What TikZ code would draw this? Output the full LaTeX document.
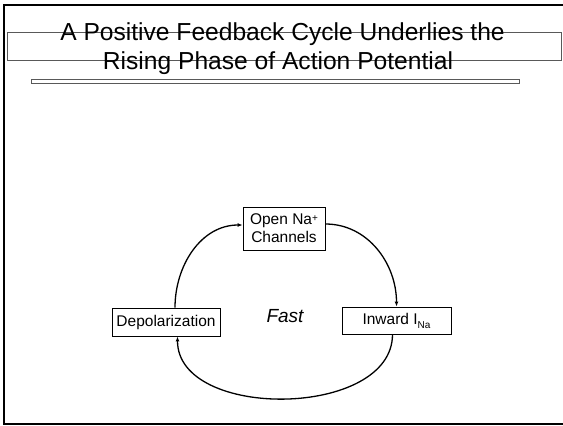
\documentclass[tikz,border=0pt]{standalone}
\usepackage{fontspec}
\setmainfont{Liberation Sans}
\usetikzlibrary{arrows.meta,positioning}
\tikzset{>={Latex[length=5pt,width=4pt]}}
\tikzset{
  titletext/.style={inner sep=0pt, font=\fontsize{24.6}{29}\selectfont},
  titleline/.style={draw=black!65, line width=0.7pt},
  cyclebox/.style={draw, line width=0.8pt, inner sep=0pt, align=center, font=\fontsize{15.5}{18}\selectfont},
  cyclearrow/.style={->, line width=1.3pt}
}
\newcommand{\smallidx}[1]{{\fontsize{10}{10}\selectfont #1}}
\begin{document}
\begin{tikzpicture}[x=1pt,y=1pt]
\useasboundingbox (0,0) rectangle (563,-426);
% slide frame
\draw[line width=2pt] (563,-5) -- (4.3,-5) -- (4.3,-423.5) -- (563,-423.5);
% title
\draw[titleline] (7.5,-32.5) rectangle (561,-60.5);
\draw[titleline] (31,-79) rectangle (519,-83);
\node[titletext, anchor=base] (title1) at (282.5,-40) {A Positive Feedback Cycle Underlies the};
\node[titletext, anchor=base] (title2) at (278,-69) {Rising Phase of Action Potential};
% cycle
\node[cyclebox, minimum width=82pt, minimum height=43pt] (open) at (284,-228.5) {Open Na\raisebox{0.4ex}{\smallidx{+}}\\Channels};
\node[cyclebox, minimum width=108pt, minimum height=28pt] (depol) at (166,-322) {Depolarization};
\node[cyclebox, minimum width=109pt, minimum height=27pt] (inward) at (396.5,-320.5) {Inward I\raisebox{-0.5ex}{\smallidx{Na}}};
\node[font=\fontsize{19}{22}\selectfont\itshape] (fast) at (285,-316) {Fast};
\draw[cyclearrow] ([xshift=9pt]depol.north) to[out=90,in=180] ([yshift=3.5pt]open.west);
\draw[cyclearrow] ([yshift=4.5pt]open.east) to[out=0,in=90] (inward.north);
\draw[cyclearrow] ([xshift=-4pt]inward.south) to[out=-90,in=-90] ([xshift=11.5pt]depol.south);
\end{tikzpicture}
\end{document}
